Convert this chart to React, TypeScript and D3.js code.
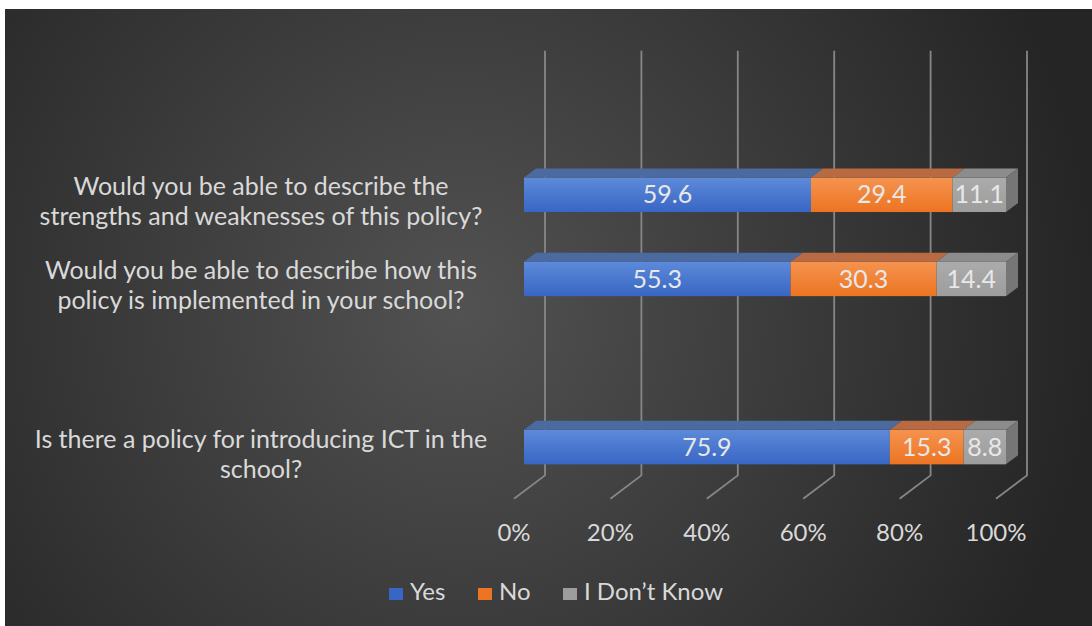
import React from "react";
import * as d3 from "d3";

// categories top-to-bottom as drawn (one empty slot, as in the source chart)
const categories = ["strengths", "implemented", "blank", "policy"];
const categoryLines: string[][] = [
  ["Would you be able to describe the", "strengths and weaknesses of this policy?"],
  ["Would you be able to describe how this", "policy is implemented in your school?"],
  [],
  ["Is there a policy for introducing ICT in the", "school?"],
];
const yesValues = [59.6, 55.3, 0, 75.9];
const noValues = [29.4, 30.3, 0, 15.3];
const dkValues = [11.1, 14.4, 0, 8.8];
const seriesNames = ["Yes", "No", "I Don\u2019t Know"];
const seriesKeys = ["yes", "no", "dk"];

const W = 1092;
const H = 626;
const FONT = "Lato, 'Open Sans', sans-serif";
const TEXT = "#d9d9d9";

const WALL = { dx: 31, dy: -23.4 }; // floor front -> back wall
const BAR = { near: 10, dy: -9, dx: 12 };
const WALL_TOP = 50.7;
const FLOOR_FRONT = 498.8;

const colors = {
  yes: { top: "#4b6aa0", f0: "#5d8ad9", f1: "#3866c4", side: "#3a5690" },
  no: { top: "#b86b43", f0: "#f5934f", f1: "#ec7422", side: "#a55a30" },
  dk: { top: "#8c8c8c", f0: "#ababab", f1: "#9d9d9d", side: "#767676" },
};

export default function App() {
  const rows = categories.map((c, i) => ({
    cat: c,
    yes: yesValues[i],
    no: noValues[i],
    dk: dkValues[i],
  }));
  const stacked = d3.stack<any>().keys(seriesKeys).offset(d3.stackOffsetExpand)(rows);

  const x = d3.scaleLinear().domain([0, 1]).range([514, 996]);
  const y = d3
    .scaleBand()
    .domain(categories)
    .range([152.75, 489.15])
    .paddingInner(0.59)
    .paddingOuter(0.295);
  const ticks = x.ticks(5);
  const fmt = d3.format(".0%");
  const bw = y.bandwidth();

  return (
    <svg
      width={W}
      height={H}
      style={{ position: "absolute", left: 0, top: 0, background: "#fff" }}
    >
      <defs>
        <radialGradient id="bg" gradientUnits="userSpaceOnUse" cx={460} cy={310} r={640}>
          <stop offset="0%" stopColor="#525252" />
          <stop offset="100%" stopColor="#252525" />
        </radialGradient>
        {seriesKeys.map((k) => (
          <linearGradient key={k} id={"front-" + k} x1="0" y1="0" x2="0" y2="1">
            <stop offset="0%" stopColor={(colors as any)[k].f0} />
            <stop offset="100%" stopColor={(colors as any)[k].f1} />
          </linearGradient>
        ))}
        <filter id="blur" x="-2" y="-1" width="5" height="3">
          <feGaussianBlur stdDeviation="2" />
        </filter>
      </defs>
      <rect x={5} y={9} width={W - 5} height={H - 9} fill="url(#bg)" />

      {/* gridlines on back wall + floor */}
      {ticks.map((t) => {
        const bx = x(t) + WALL.dx;
        const by = FLOOR_FRONT + WALL.dy;
        return (
          <path
            key={t}
            d={`M${bx},${WALL_TOP}L${bx},${by}L${x(t)},${FLOOR_FRONT}`}
            fill="none"
            stroke="#878787"
            strokeWidth={1.8}
          />
        );
      })}

      {/* tick labels */}
      {ticks.map((t) => (
        <text
          key={"t" + t}
          x={x(t)}
          y={541}
          textAnchor="middle"
          fill={TEXT}
          fontFamily={FONT}
          fontSize={24}
        >
          {fmt(t)}
        </text>
      ))}

      {/* bars */}
      {categories.map((c, ci) => {
        if (rows[ci].yes + rows[ci].no + rows[ci].dk === 0) return null;
        const y0 = y(c)!;
        const y1 = y0 + bw;
        const x0 = x(0) + BAR.near;
        return (
          <g key={c}>
            <line
              x1={x0 + 6}
              x2={x0 + 6}
              y1={y0 - 17}
              y2={y1 + 10}
              stroke="#000"
              strokeWidth={6}
              opacity={0.95}
              filter="url(#blur)"
            />
            {stacked.map((s, si) => {
              const d = s[ci];
              const k = s.key;
              const a = x(d[0]) + BAR.near;
              const b = x(d[1]) + BAR.near;
              const col = (colors as any)[k];
              const last = si === stacked.length - 1;
              return (
                <g key={k}>
                  <rect x={a} y={y0} width={b - a} height={bw} fill={`url(#front-${k})`} />
                  <path
                    d={`M${a},${y0}L${a + BAR.dx},${y0 + BAR.dy}L${b + BAR.dx},${y0 + BAR.dy}L${b},${y0}Z`}
                    fill={col.top}
                  />
                  {last && (
                    <path
                      d={`M${b},${y0}L${b + BAR.dx},${y0 + BAR.dy}L${b + BAR.dx},${y1 + BAR.dy}L${b},${y1}Z`}
                      fill={col.side}
                    />
                  )}
                </g>
              );
            })}
            {stacked.map((s) => {
              const d = s[ci];
              const v = (rows[ci] as any)[s.key];
              return (
                <text
                  key={"l" + s.key}
                  x={(x(d[0]) + x(d[1])) / 2 + BAR.near}
                  y={y0 + bw / 2 + 8.6}
                  textAnchor="middle"
                  fill="#e8e8e8"
                  fontFamily={FONT}
                  fontSize={25}
                >
                  {d3.format(".1f")(v)}
                </text>
              );
            })}
          </g>
        );
      })}

      {/* category labels */}
      {categories.map((c, ci) => {
        const cy = y(c)! + bw / 2;
        return (
          <text
            key={"c" + c}
            textAnchor="middle"
            fill={TEXT}
            fontFamily={FONT}
            fontSize={25}
          >
            {categoryLines[ci].map((ln, li) => (
              <tspan key={li} x={261} y={cy + 0.5 + li * 30}>
                {ln}
              </tspan>
            ))}
          </text>
        );
      })}

      {/* legend */}
      {seriesKeys.map((k, i) => {
        const offs = [389, 478, 563];
        const lx = offs[i];
        return (
          <g key={"lg" + k}>
            <rect x={lx} y={588} width={14} height={12} fill={(colors as any)[k].f1} />
            <text x={lx + 21} y={600} fill={TEXT} fontFamily={FONT} fontSize={24}>
              {seriesNames[i]}
            </text>
          </g>
        );
      })}
    </svg>
  );
}
